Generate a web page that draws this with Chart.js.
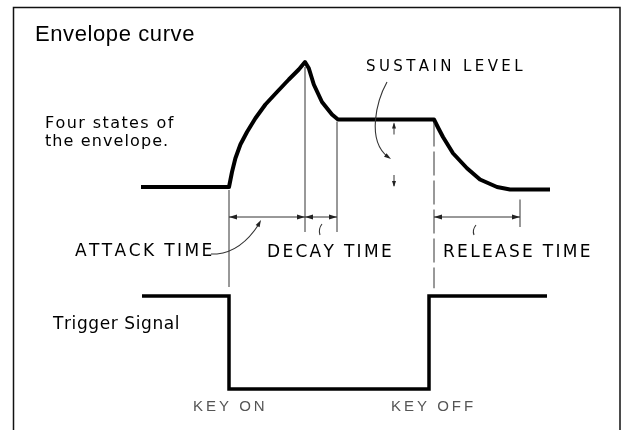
<!DOCTYPE html>
<html lang="en">
<head>
<meta charset="UTF-8" />
<title>Envelope curve</title>
<script src="https://cdn.jsdelivr.net/npm/chart.js"></script>
<style>
  html, body { margin: 0; padding: 0; background: #fff; }
  #wrap { width: 623px; height: 430px; }
</style>
</head>
<body>
<div id="wrap"><canvas id="envChart" width="623" height="430"></canvas></div>
<script>
// time axis: key on at t = 0 (arbitrary units), level 0 = rest, 1 = peak
const envTimes  = [-4.4, 0, 0.15, 0.32, 0.57, 0.9, 1.32, 1.82, 2.4, 2.99, 3.49, 3.8, 3.99, 4.24, 4.65, 5.15, 5.45, 10.25, 10.47, 10.7, 11.2, 11.9, 12.55, 13.4, 14.05, 16.05];
const envLevels = [0, 0, 0.12, 0.23, 0.34, 0.44, 0.55, 0.66, 0.76, 0.86, 0.94, 1.0, 0.95, 0.82, 0.68, 0.58, 0.54, 0.54, 0.47, 0.4, 0.27, 0.15, 0.06, 0, -0.02, -0.02];

// trigger signal: 1 = high, 0 = low (key held)
const trigTimes  = [-4.35, 0, 0, 10, 10, 15.9];
const trigLevels = [1, 1, 0, 0, 1, 1];

// key on, attack end, decay end, release start, release end
const phaseTimes = [0, 3.8, 5.4, 10.25, 14.55];
const sustainLevel = 0.54;
const sustainMarkTime = 8.25;

const timeLabels = ["ATTACK TIME", "DECAY TIME", "RELEASE TIME"];
const keyLabels = ["KEY ON", "KEY OFF"];

const FONT = "'Liberation Sans', Arial, sans-serif";
const BODY_FONT = "'DejaVu Sans', Verdana, sans-serif";

function spacedText(ctx, str, x, y, spacing) {
    let cx = x;
    for (const ch of str) {
        ctx.fillText(ch, cx, y);
        cx += ctx.measureText(ch).width + spacing;
    }
}

function arrowHead(ctx, x, y, dx, dy, len, half) {
    const m = Math.hypot(dx, dy);
    const ux = dx / m, uy = dy / m;
    ctx.beginPath();
    ctx.moveTo(x, y);
    ctx.lineTo(x - ux * len - uy * half, y - uy * len + ux * half);
    ctx.lineTo(x - ux * len + uy * half, y - uy * len - ux * half);
    ctx.closePath();
    ctx.fill();
}

function vLine(ctx, x, y1, y2) {
    ctx.beginPath();
    ctx.moveTo(x, y1);
    ctx.lineTo(x, y2);
    ctx.stroke();
}

function dimLine(ctx, x1, x2, y) {
    ctx.beginPath();
    ctx.moveTo(x1, y);
    ctx.lineTo(x2, y);
    ctx.stroke();
    arrowHead(ctx, x1, y, -1, 0, 8, 2.5);
    arrowHead(ctx, x2, y, 1, 0, 8, 2.5);
}

const annotations = {
    id: "annotations",
    afterDatasetsDraw(chart) {
        const ctx = chart.ctx;
        const X = t => chart.scales.x.getPixelForValue(t);
        const Y = l => chart.scales.y.getPixelForValue(l);
        ctx.save();

        // frame
        ctx.strokeStyle = "#111";
        ctx.lineWidth = 1.5;
        ctx.strokeRect(13.5, 7.5, 606.5, 440);

        // guide lines
        ctx.strokeStyle = "#333";
        ctx.fillStyle = "#222";
        ctx.lineWidth = 1;
        vLine(ctx, X(phaseTimes[0]), Y(0) + 3, Y(-0.8));
        vLine(ctx, X(phaseTimes[1]), Y(1.0) + 5, Y(-0.36));
        vLine(ctx, X(phaseTimes[2]), Y(sustainLevel) + 2, Y(-0.36));
        ctx.setLineDash([24, 5]);
        vLine(ctx, X(phaseTimes[3]), Y(sustainLevel) + 3, Y(-0.81));
        ctx.setLineDash([]);
        vLine(ctx, X(phaseTimes[4]), Y(-0.1), Y(-0.32));

        // time dimension lines
        dimLine(ctx, X(phaseTimes[0]), X(phaseTimes[1]), Y(-0.24));
        dimLine(ctx, X(phaseTimes[1]), X(phaseTimes[2]), Y(-0.24));
        dimLine(ctx, X(phaseTimes[3]), X(phaseTimes[4]), Y(-0.24));

        // sustain level arrows
        const sx = X(sustainMarkTime);
        vLine(ctx, sx, Y(sustainLevel) + 4, Y(sustainLevel) + 15);
        arrowHead(ctx, sx, Y(sustainLevel) + 3, 0, -1, 6, 2);
        vLine(ctx, sx, Y(0) - 12, Y(0) - 1);
        arrowHead(ctx, sx, Y(0), 0, 1, 6, 2);

        // leaders
        ctx.lineWidth = 1.1;
        ctx.beginPath();
        ctx.moveTo(387, 82);
        ctx.bezierCurveTo(377, 100, 366, 140, 388, 157);
        ctx.stroke();
        arrowHead(ctx, 391, 159, 1, 0.7, 7, 2.2);

        ctx.beginPath();
        ctx.moveTo(211, 254);
        ctx.lineTo(217, 254);
        ctx.bezierCurveTo(236, 252, 250, 238, 259, 224);
        ctx.stroke();
        arrowHead(ctx, 261, 220, 0.55, -1, 7, 2.2);

        ctx.beginPath();
        ctx.moveTo(322, 224);
        ctx.quadraticCurveTo(318, 229, 320, 235);
        ctx.stroke();
        ctx.beginPath();
        ctx.moveTo(476, 225);
        ctx.quadraticCurveTo(472, 230, 474, 235);
        ctx.stroke();

        // texts
        ctx.fillStyle = "#000";
        ctx.textBaseline = "alphabetic";
        ctx.font = "22px " + FONT;
        spacedText(ctx, "Envelope curve", 35, 41, 0.6);

        ctx.font = "16px " + BODY_FONT;
        spacedText(ctx, "Four states of", 45, 128, 1.4);
        spacedText(ctx, "the envelope.", 45, 146, 1.1);

        ctx.font = "15px " + BODY_FONT;
        spacedText(ctx, "SUSTAIN LEVEL", 366, 71, 3.4);

        ctx.font = "17px " + BODY_FONT;
        spacedText(ctx, timeLabels[0], 75, 256, 2.4);
        spacedText(ctx, timeLabels[1], 267, 257, 2.3);
        spacedText(ctx, timeLabels[2], 443, 257, 2.3);
        spacedText(ctx, "Trigger Signal", 53, 329, 0.6);

        ctx.fillStyle = "#555";
        ctx.font = "15px " + FONT;
        spacedText(ctx, keyLabels[0], 193, 411, 3);
        spacedText(ctx, keyLabels[1], 391, 411, 3);

        ctx.restore();
    }
};

new Chart(document.getElementById("envChart"), {
    type: "line",
    data: {
        datasets: [
            {
                label: "Envelope",
                data: envTimes.map((t, i) => ({ x: t, y: envLevels[i] })),
                yAxisID: "y",
                borderColor: "#000",
                borderWidth: 4,
                pointRadius: 0,
                tension: 0,
                borderJoinStyle: "round",
            },
            {
                label: "Trigger Signal",
                data: trigTimes.map((t, i) => ({ x: t, y: trigLevels[i] })),
                yAxisID: "trig",
                borderColor: "#000",
                borderWidth: 3.5,
                pointRadius: 0,
                tension: 0,
                borderJoinStyle: "miter",
            },
        ],
    },
    options: {
        responsive: false,
        animation: false,
        events: [],
        layout: { padding: 0 },
        plugins: { legend: { display: false }, tooltip: { enabled: false } },
        scales: {
            x: { type: "linear", display: false, min: -11.45, max: 19.7 },
            y: { type: "linear", display: false, min: -1.944, max: 1.496 },
            trig: { type: "linear", display: false, min: -0.441, max: 4.183 },
        },
    },
    plugins: [annotations],
});
</script>
</body>
</html>
